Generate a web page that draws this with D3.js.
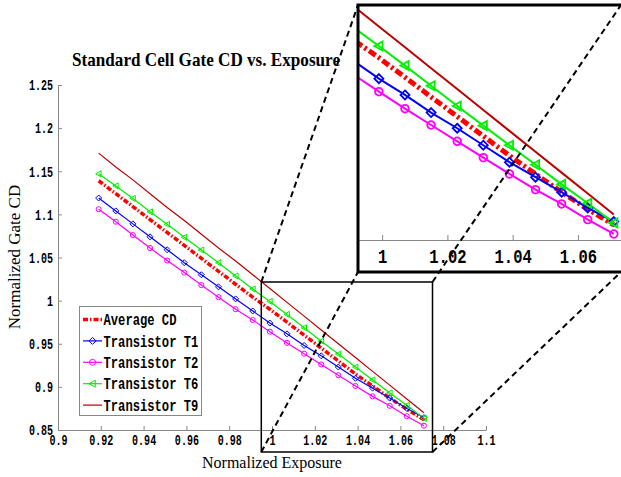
<!DOCTYPE html>
<html>
<head>
<meta charset="utf-8">
<script src="https://d3js.org/d3.v7.min.js"></script>
<style>
body { margin: 0; background: #fff; }
svg { display: block; }
</style>
</head>
<body>
<svg width="621" height="477"></svg>
<script>

// normalized exposure of each sample
var exposure = [0.919, 0.927, 0.935, 0.943, 0.951, 0.959, 0.967, 0.975, 0.983, 0.991,
                0.999, 1.007, 1.015, 1.023, 1.031, 1.039, 1.047, 1.055, 1.063, 1.071];

// normalized gate CD
var avgCD = [1.139, 1.124, 1.109, 1.094, 1.079, 1.064, 1.049, 1.034, 1.019, 1.004,
             0.990, 0.975, 0.960, 0.945, 0.930, 0.915, 0.901, 0.887, 0.874, 0.862];
var t1 = [1.119, 1.104, 1.089, 1.074, 1.059, 1.044, 1.030, 1.016, 1.002, 0.988,
          0.974, 0.9615, 0.948, 0.936, 0.923, 0.910, 0.8985, 0.887, 0.875, 0.8645];
var t2 = [1.106, 1.0915, 1.076, 1.061, 1.0465, 1.0325, 1.018, 1.004, 0.990, 0.9775,
          0.964, 0.951, 0.9385, 0.926, 0.9135, 0.901, 0.889, 0.878, 0.866, 0.855];
var t6 = [1.147, 1.133, 1.1185, 1.103, 1.0885, 1.0734, 1.0587, 1.044, 1.0286, 1.0135,
          0.999, 0.984, 0.9686, 0.953, 0.938, 0.923, 0.908, 0.893, 0.8786, 0.8635];
var t9 = [1.171, 1.155, 1.140, 1.124, 1.108, 1.093, 1.077, 1.061, 1.046, 1.030,
          1.014, 0.998, 0.982, 0.966, 0.950, 0.934, 0.918, 0.902, 0.886, 0.870];

var xTicks = [0.9, 0.92, 0.94, 0.96, 0.98, 1, 1.02, 1.04, 1.06, 1.08, 1.1];
var yTicks = [0.85, 0.9, 0.95, 1, 1.05, 1.1, 1.15, 1.2, 1.25];
var insetTicks = [1, 1.02, 1.04, 1.06];

// region that is blown up in the inset (data units)
var zoomX = [0.995, 1.075],
    zoomY = [0.8245, 1.0216];

var series = [
  {name: "Average CD",    values: avgCD, color: "#ff0000", marker: null, avg: true},
  {name: "Transistor T1", values: t1,    color: "#0000ff", marker: "diamond"},
  {name: "Transistor T2", values: t2,    color: "#ff00ff", marker: "circle"},
  {name: "Transistor T6", values: t6,    color: "#00f000", marker: "triangle"},
  {name: "Transistor T9", values: t9,    color: "#bb0000", marker: null}
];

var svg = d3.select("svg");
var fmt = d3.format("~g");
var mono = "'Liberation Mono', 'DejaVu Sans Mono', monospace";
var serif = "'Liberation Serif', 'DejaVu Serif', serif";

function markerPath(type, s) {
  if (type == "diamond") return "M0," + (-s) + "L" + s + ",0L0," + s + "L" + (-s) + ",0Z";
  if (type == "triangle") return "M" + (-s) + ",0L" + (s * 0.8) + "," + (-s) + "L" + (s * 0.8) + "," + s + "Z";
  var p = d3.path();
  p.arc(0, 0, s, 0, 2 * Math.PI);
  return p.toString();
}

// draws all series into g with the given scales and pen sizes
function drawSeries(g, x, y, o) {
  series.forEach(function(s) {
    var line = d3.line()
      .x(function(d, i) { return x(exposure[i]); })
      .y(function(d) { return y(d); });
    g.append("path")
      .datum(s.values)
      .attr("fill", "none")
      .attr("stroke", s.color)
      .attr("stroke-width", s.avg ? o.avgWidth : o.width)
      .attr("stroke-dasharray", s.avg ? o.dash : null)
      .attr("d", line);
  });
  series.forEach(function(s) {
    if (!s.marker) return;
    g.selectAll(null)
      .data(s.values)
      .enter().append("path")
      .attr("transform", function(d, i) { return "translate(" + x(exposure[i]) + "," + y(d) + ")"; })
      .attr("d", markerPath(s.marker, s.marker == "circle" ? o.ms * 0.85 : o.ms))
      .attr("fill", "none")
      .attr("stroke", s.color)
      .attr("stroke-width", o.msWidth);
  });
}

function styleAxis(g, size, sx) {
  g.attr("font-family", mono).attr("font-size", size).attr("font-weight", "bold");
  g.select(".domain").attr("stroke", "#888");
  g.selectAll(".tick line").attr("stroke", "#888");
  g.selectAll(".tick text").attr("fill", "#000").attr("transform", "scale(" + sx + ",1)");
}

// ---------- main plot ----------
var x = d3.scaleLinear().domain([0.9, 1.1]).range([58, 486]);
var y = d3.scaleLinear().domain([0.85, 1.25]).range([430, 85]);

var gx = svg.append("g")
  .attr("transform", "translate(0,430)")
  .call(d3.axisBottom(x).tickValues(xTicks).tickFormat(fmt).tickSize(-4).tickSizeOuter(0).tickPadding(4));
styleAxis(gx, 15, 0.67);

var gy = svg.append("g")
  .attr("transform", "translate(58,0)")
  .call(d3.axisLeft(y).tickValues(yTicks).tickFormat(fmt).tickSize(-4).tickSizeOuter(0).tickPadding(5));
styleAxis(gy, 15, 0.67);
gy.selectAll(".tick text").attr("x", -5 / 0.67);

drawSeries(svg.append("g"), x, y, {width: 1.2, avgWidth: 3.5, dash: "5,2,1.5,2", ms: 3, msWidth: 1});

svg.append("text")
  .attr("x", 206).attr("y", 66)
  .attr("text-anchor", "middle")
  .attr("font-family", serif).attr("font-weight", "bold").attr("font-size", 19)
  .attr("textLength", 268).attr("lengthAdjust", "spacingAndGlyphs")
  .text("Standard Cell Gate CD vs. Exposure");

svg.append("text")
  .attr("transform", "translate(20,257) rotate(-90)")
  .attr("text-anchor", "middle")
  .attr("font-family", serif).attr("font-size", 17)
  .text("Normalized Gate CD");

svg.append("text")
  .attr("x", 272).attr("y", 468)
  .attr("text-anchor", "middle")
  .attr("font-family", serif).attr("font-size", 16)
  .text("Normalized Exposure");

// ---------- legend ----------
var legend = svg.append("g");
legend.append("rect")
  .attr("x", 79.5).attr("y", 306.5).attr("width", 122).attr("height", 109)
  .attr("fill", "#fff").attr("stroke", "#888");

var rows = legend.selectAll(null).data(series).enter().append("g")
  .attr("transform", function(d, i) { return "translate(0," + (319.5 + i * 21.4) + ")"; });
rows.append("line")
  .attr("x1", 83).attr("x2", 102)
  .attr("stroke", function(d) { return d.color; })
  .attr("stroke-width", function(d) { return d.avg ? 3.5 : 1.2; })
  .attr("stroke-dasharray", function(d) { return d.avg ? "5,2,1.5,2" : null; });
rows.filter(function(d) { return d.marker; }).append("path")
  .attr("transform", "translate(92.5,0)")
  .attr("d", function(d) { return markerPath(d.marker, d.marker == "circle" ? 3 : 3.5); })
  .attr("fill", "none")
  .attr("stroke", function(d) { return d.color; })
  .attr("stroke-width", 1);
rows.append("text")
  .attr("transform", "translate(103.5,0) scale(0.76,1)")
  .attr("dy", "0.36em")
  .attr("font-family", mono).attr("font-weight", "bold").attr("font-size", 16)
  .text(function(d) { return d.name; });

// ---------- zoom box and connectors ----------
var bx0 = x(zoomX[0]), bx1 = x(zoomX[1]), by0 = y(zoomY[1]), by1 = y(zoomY[0]);
var ins = {x0: 358, y0: 5, x1: 621, y1: 272};

svg.append("rect")
  .attr("x", bx0).attr("y", by0).attr("width", bx1 - bx0).attr("height", by1 - by0)
  .attr("fill", "none").attr("stroke", "#000").attr("stroke-width", 1.5);

function connector(x1, y1, x2, y2) {
  svg.append("line")
    .attr("x1", x1).attr("y1", y1).attr("x2", x2).attr("y2", y2)
    .attr("stroke", "#000").attr("stroke-width", 2).attr("stroke-dasharray", "6,4");
}
connector(bx0, by0, ins.x0, ins.y0);
connector(bx0, by1, ins.x0, ins.y1);
connector(bx1, by1, ins.x1, ins.y1);

// ---------- inset ----------
var ix = d3.scaleLinear().domain([0.9926, 1.0732]).range([358, 621]);
var iy = d3.scaleLinear().domain([0.8504, 1.0304]).range([240, 5]);

var inset = svg.append("g");
inset.append("rect")
  .attr("x", ins.x0).attr("y", ins.y0).attr("width", 270).attr("height", ins.y1 - ins.y0)
  .attr("fill", "#fff");

svg.append("clipPath").attr("id", "insetClip")
  .append("rect").attr("x", ins.x0).attr("y", ins.y0).attr("width", 270).attr("height", 242);

var gix = inset.append("g")
  .attr("transform", "translate(0,240)")
  .call(d3.axisBottom(ix).tickValues(insetTicks).tickFormat(fmt).tickSize(-5).tickSizeOuter(0).tickPadding(8));
styleAxis(gix, 21, 0.74);

drawSeries(inset.append("g").attr("clip-path", "url(#insetClip)"), ix, iy,
  {width: 2, avgWidth: 5, dash: "8,3,2.5,3", ms: 4.5, msWidth: 1.8});

inset.append("path")
  .attr("d", "M630," + ins.y0 + "H" + ins.x0 + "V" + ins.y1 + "H630")
  .attr("fill", "none").attr("stroke", "#000").attr("stroke-width", 3);

connector(bx1, by0, ins.x1, ins.y0);

</script>
</body>
</html>
